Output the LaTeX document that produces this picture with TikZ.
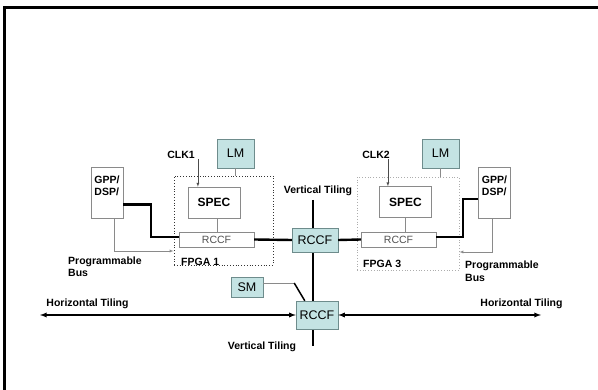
\documentclass[tikz,border=0pt]{standalone}
\usepackage{fontspec}
\setmainfont{Liberation Sans}
\usepackage{tikz}
\definecolor{tealfill}{HTML}{C4E3E3}
\definecolor{tealedge}{HTML}{6E8C8C}
\definecolor{boxgray}{HTML}{8A8A8A}
\definecolor{txtgray}{HTML}{505050}

\begin{document}
\begin{tikzpicture}[
  x=1pt,y=-1pt,>=latex,
  tealbox/.style={draw=tealedge,fill=tealfill,inner sep=0pt,font=\fontsize{12.5}{14}\selectfont},
  specbox/.style={draw=boxgray,fill=white,inner sep=0pt,minimum width=52pt,minimum height=31pt,
    font=\fontsize{12}{14}\selectfont\bfseries},
  linkbox/.style={draw=boxgray,fill=white,inner sep=0pt,minimum width=75pt,minimum height=15pt,
    text=txtgray,font=\fontsize{10.5}{12}\selectfont},
  gppbox/.style={draw=boxgray,fill=white,inner sep=0pt,minimum width=32pt,minimum height=51pt},
  fpgabox/.style={dotted,thick,inner sep=0pt},
  lbl/.style={font=\fontsize{10.5}{12}\selectfont\bfseries,align=left,inner sep=0pt},
  bus/.style={line width=2.4pt},
  tile/.style={<->,line width=1.3pt},
  feed/.style={->,draw=boxgray,thin}
]
\useasboundingbox (0,0) rectangle (598,390);
\draw[line width=2.5pt] (598,7.5) -- (4.5,7.5) -- (4.5,390);

\coordinate (vtop) at (313,200);
\coordinate (vbot) at (313,346);
\draw[line width=2pt] (vtop) -- (vbot);

\node[fpgabox,draw=black!80,minimum width=99pt,minimum height=89pt] (fpgaA) at (223.5,220.5) {};
\node[fpgabox,draw=boxgray!70,minimum width=102pt,minimum height=93pt] (fpgaB) at (408,223.5) {};
\node[tealbox,minimum width=37pt,minimum height=29pt] (lmA) at (235.5,153.5) {LM};
\node[tealbox,minimum width=37pt,minimum height=29pt] (lmB) at (440.5,153.5) {LM};
\node[specbox] (specA) at (214,202.5) {SPEC};
\node[specbox] (specB) at (405.5,202) {SPEC};
\node[linkbox] (rccfA) at (216.5,239.5) {RCCF};
\node[linkbox] (rccfB) at (398.5,239.5) {RCCF};
\node[gppbox] (gppA) at (107,192.5) {};
\node[gppbox] (gppB) at (494.5,192.5) {};
\node[lbl,anchor=north] (gppAtxt) at ([yshift=-9pt]gppA.north) {GPP/\\DSP/};
\node[lbl,anchor=north] (gppBtxt) at ([yshift=-9pt]gppB.north) {GPP/\\DSP/};
\node[tealbox,minimum width=46pt,minimum height=24pt] (rccfM) at (315,240) {RCCF};
\node[tealbox,minimum width=42pt,minimum height=28pt] (rccfS) at (317,315) {RCCF};
\node[tealbox,minimum width=32pt,minimum height=20pt] (sm) at (247,287) {SM};

\node[lbl] (clkA) at (181,155) {CLK1};
\node[lbl] (clkB) at (376,155) {CLK2};
\node[lbl,anchor=base west] (fpgaAlbl) at (181,266) {FPGA 1};
\node[lbl,anchor=base west] (fpgaBlbl) at (363,268) {FPGA 3};
\node[lbl,anchor=north west] (busA) at (68,257) {Programmable\\Bus};
\node[lbl,anchor=north west,font=\fontsize{10.5}{12.5}\selectfont\bfseries] (busB) at (465,261) {Programmable\\Bus};
\node[lbl] (vtTop) at (318,191) {Vertical Tiling};
\node[lbl] (vtBot) at (262,347) {Vertical Tiling};
\node[lbl] (htLeft) at (87.5,304) {Horizontal Tiling};
\node[lbl] (htRight) at (521.5,304) {Horizontal Tiling};

\coordinate (htL) at (40,315);
\coordinate (htR) at (541,315);
\draw[tile] (htL) -- (rccfS.west);
\draw[tile] (rccfS.east) -- (htR);

\draw[->,black!70] ([xshift=3pt]clkA.south east) -- ([xshift=3pt]clkA.south east |- specA.north);
\draw[->,black!70] ([xshift=-2pt]clkB.south east) -- ([xshift=-2pt]clkB.south east |- specB.north);
\draw[boxgray] (lmA.south) -- (lmA.south |- fpgaA.north);
\draw[boxgray] (lmB.south) -- (lmB.south |- fpgaB.north);
\draw[boxgray] ([xshift=3pt]specA.south) -- ([xshift=3pt]specA.south |- rccfA.north);
\draw[boxgray] (specB.south) -- (specB.south |- rccfB.north);

\draw[bus] ([yshift=-12pt]gppA.east) -- ++(28,0) |- ([yshift=2.5pt]rccfA.west);
\draw[bus] ([yshift=2.5pt]rccfB.east) -- ++(27,0) |- ([yshift=-6.5pt]gppB.west);
\draw[bus] (rccfA.east) -- (rccfM.west);
\draw[bus] (rccfM.east) -- (rccfB.west);

\draw[feed] ([xshift=7pt]gppA.south) |- ([yshift=-30.5pt]fpgaA.west);
\draw[feed] ([xshift=-2.5pt]gppB.south) |- ([yshift=-28.5pt]fpgaB.east);

\draw[boxgray] ([yshift=4pt]sm.east) -- ++(31,0) coordinate (smbend);
\draw[line width=1.5pt] (smbend) -- ([xshift=9pt]rccfS.north west);
\end{tikzpicture}
\end{document}
